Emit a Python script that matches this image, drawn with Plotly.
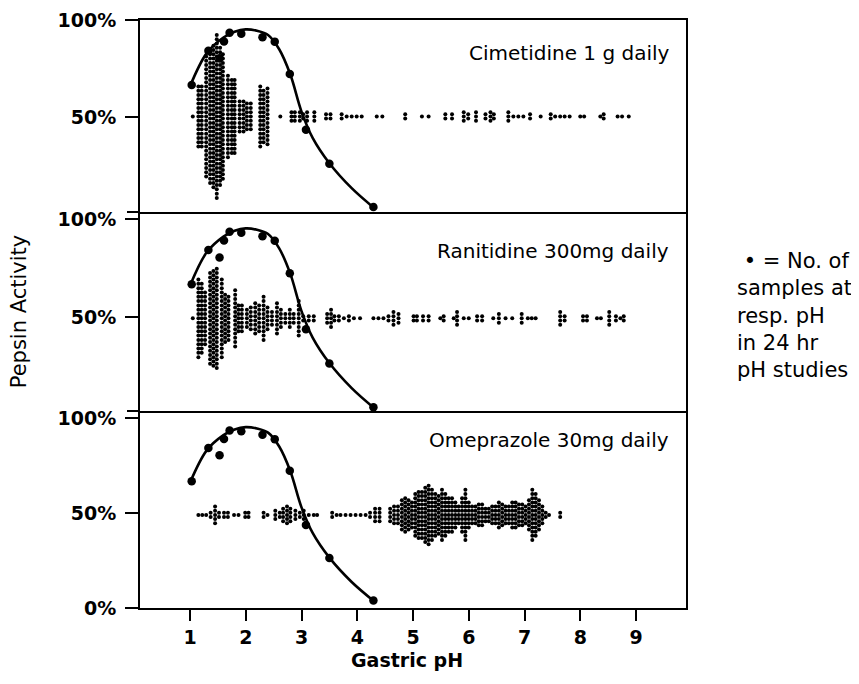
import plotly.graph_objects as go

# ---------------- data ----------------
ph_ticks = [1, 2, 3, 4, 5, 6, 7, 8, 9]
pct_ticks_upper = [50, 100]
pct_ticks_lower = [0, 50, 100]

panel_labels = ["Cimetidine 1 g daily", "Ranitidine 300mg daily", "Omeprazole 30mg daily"]

# drawn pepsin-activity curve
curve_ph = [1.0, 1.3, 1.6, 1.8, 2.0, 2.2, 2.4, 2.6, 2.8, 3.0, 3.2, 3.5, 3.9, 4.3]
curve_act = [66.0, 83.0, 91.0, 94.0, 95.2, 94.5, 92.3, 85.0, 72.0, 53.0, 39.5, 26.5, 13.7, 3.6]

# measured pepsin-activity points (large dots)
point_ph = [1.03, 1.33, 1.53, 1.61, 1.71, 1.92, 2.30, 2.52, 2.79, 3.08, 3.50, 4.29]
point_act = [66.7, 84.2, 80.4, 89.0, 93.5, 93.0, 91.2, 88.9, 72.3, 43.7, 26.3, 4.0]

# number of samples at each pH (dot columns) - Cimetidine
cim_ph = [1.05, 1.15, 1.21, 1.29, 1.36, 1.42, 1.48, 1.54, 1.59, 1.68,
          1.75, 1.80, 1.89, 1.96, 2.02, 2.09, 2.26, 2.32, 2.39, 2.62,
          2.82, 2.88, 2.97, 3.03, 3.10, 3.23, 3.44, 3.52, 3.72, 3.81,
          3.90, 3.99, 4.08, 4.35, 4.45, 4.86, 5.16, 5.28, 5.58, 5.70,
          5.91, 5.99, 6.13, 6.30, 6.39, 6.45, 6.71, 6.80, 6.89, 6.98,
          7.10, 7.29, 7.47, 7.55, 7.64, 7.72, 7.81, 8.00, 8.07, 8.36,
          8.42, 8.67, 8.75, 8.87]
cim_n = [1, 15, 15, 29, 32, 34, 39, 33, 30, 20,
         18, 18, 8, 8, 7, 7, 15, 13, 14, 1,
         3, 3, 3, 2, 3, 3, 2, 2, 2, 1,
         1, 1, 1, 1, 1, 2, 1, 1, 2, 2,
         3, 2, 3, 2, 3, 2, 3, 1, 1, 1,
         2, 1, 2, 1, 1, 1, 1, 1, 1, 1,
         2, 1, 1, 1]

# Ranitidine
ran_ph = [1.05, 1.15, 1.21, 1.27, 1.36, 1.42, 1.48, 1.57, 1.63, 1.69,
          1.81, 1.87, 1.93, 2.02, 2.09, 2.17, 2.24, 2.32, 2.39, 2.47,
          2.56, 2.63, 2.71, 2.79, 2.86, 2.95, 3.03, 3.13, 3.22, 3.46,
          3.53, 3.59, 3.67, 3.76, 3.85, 3.94, 4.05, 4.29, 4.38, 4.47,
          4.56, 4.65, 4.74, 5.01, 5.07, 5.18, 5.28, 5.49, 5.55, 5.73,
          5.79, 5.91, 6.00, 6.15, 6.24, 6.44, 6.54, 6.66, 6.78, 6.95,
          7.06, 7.13, 7.20, 7.64, 7.72, 8.05, 8.12, 8.30, 8.37, 8.52,
          8.64, 8.72, 8.78]
ran_n = [1, 19, 17, 13, 22, 23, 24, 19, 12, 11,
         14, 7, 7, 5, 6, 8, 7, 11, 6, 4,
         8, 5, 3, 5, 3, 9, 2, 2, 2, 3,
         5, 2, 2, 1, 2, 1, 1, 1, 1, 1,
         2, 4, 3, 2, 2, 2, 2, 1, 2, 1,
         4, 1, 1, 2, 2, 1, 3, 1, 1, 3,
         1, 1, 1, 4, 2, 2, 2, 1, 1, 4,
         2, 1, 2]

# Omeprazole
ome_ph = [1.15, 1.22, 1.29, 1.37, 1.45, 1.52, 1.61, 1.68, 1.79, 1.87,
          1.99, 2.05, 2.32, 2.39, 2.53, 2.61, 2.67, 2.74, 2.80, 2.89,
          2.97, 3.04, 3.13, 3.22, 3.28, 3.55, 3.63, 3.70, 3.79, 3.88,
          3.97, 4.06, 4.15, 4.23, 4.32, 4.40, 4.59, 4.66, 4.73,
          4.80, 4.86, 4.92, 4.98, 5.04, 5.10, 5.16, 5.22, 5.28, 5.34,
          5.40, 5.46, 5.52, 5.58, 5.64, 5.70, 5.76, 5.82, 5.88, 5.94,
          6.00, 6.06, 6.12, 6.18, 6.24, 6.30, 6.36, 6.42, 6.48, 6.54,
          6.60, 6.66, 6.72, 6.78, 6.84, 6.90, 6.96, 7.02, 7.08, 7.14,
          7.20, 7.26, 7.32, 7.38, 7.44, 7.64]
ome_n = [1, 1, 1, 2, 5, 2, 2, 2, 1, 1,
         2, 2, 2, 1, 3, 2, 4, 5, 4, 3,
         2, 3, 1, 1, 1, 2, 1, 1, 1, 1,
         1, 1, 1, 2, 4, 4, 4, 5, 5,
         8, 9, 8, 7, 11, 12, 12, 14, 15, 13,
         11, 10, 13, 11, 9, 9, 7, 5, 9, 13,
         7, 5, 5, 6, 6, 4, 4, 5, 5, 7,
         6, 5, 5, 7, 7, 6, 6, 5, 8, 13,
         11, 8, 5, 2, 1, 2]

panel_ph = [cim_ph, ran_ph, ome_ph]
panel_n = [cim_n, ran_n, ome_n]
panel_center = [50.5, 49.3, 49.0]   # % level the sample columns are centred on
dot_step = 2.2                       # % between stacked sample dots

# ---------------- layout geometry ----------------
FONT = "DejaVu Sans"
domains = [[0.6735, 1.0], [0.335, 0.6735], [0.0, 0.335]]
yranges = [[1.5, 100.0], [2.04, 103.57], [0.0, 103.7]]
xrange_ = [0.103, 9.897]


def stack(phs, ns, center, step):
    xs, ys = [], []
    for p, n in zip(phs, ns):
        for i in range(n):
            xs.append(p)
            ys.append(center + (i - (n - 1) / 2) * step)
    return xs, ys


fig = go.Figure()
for k in range(3):
    sfx = "" if k == 0 else str(k + 1)
    xa, ya = "x" + sfx, "y" + sfx
    dx, dy = stack(panel_ph[k], panel_n[k], panel_center[k], dot_step)
    fig.add_trace(go.Scatter(x=dx, y=dy, mode="markers", xaxis=xa, yaxis=ya,
                             marker=dict(size=4.0, color="black"),
                             showlegend=False, hoverinfo="skip"))
    fig.add_trace(go.Scatter(x=curve_ph, y=curve_act, mode="lines", xaxis=xa, yaxis=ya,
                             line=dict(color="black", width=2.6, shape="spline", smoothing=1.0),
                             showlegend=False, hoverinfo="skip", cliponaxis=False))
    fig.add_trace(go.Scatter(x=point_ph, y=point_act, mode="markers", xaxis=xa, yaxis=ya,
                             marker=dict(size=8.5, color="black"),
                             showlegend=False, hoverinfo="skip", cliponaxis=False))

axis_common = dict(showline=True, linewidth=2, linecolor="black",
                   showgrid=False, zeroline=False, automargin=False)

# the page body adds an 8 px offset, so margins are 8 px smaller on left/top
layout = dict(width=859, height=684, margin=dict(l=132, r=181, t=12, b=84),
              paper_bgcolor="white", plot_bgcolor="white", template="none",
              font=dict(family=FONT, color="black"))

for k in range(3):
    sfx = "" if k == 0 else str(k + 1)
    tv = pct_ticks_upper if k < 2 else pct_ticks_lower
    layout["yaxis" + sfx] = dict(
        axis_common, mirror=True, domain=domains[k], range=yranges[k], anchor="x" + sfx,
        tickvals=tv, ticktext=[f"{v}%" for v in tv], ticks="outside",
        ticklen=13, tickwidth=2, tickcolor="black", ticklabelstandoff=5,
        tickfont=dict(family=FONT, size=19, color="black", weight="bold"))
    xa = dict(axis_common, mirror=(k == 0), domain=[0, 1], range=xrange_, anchor="y" + sfx)
    if k < 2:
        xa.update(showticklabels=False, ticks="")
    else:
        xa.update(tickvals=ph_ticks, ticktext=[str(v) for v in ph_ticks],
                  ticks="outside", ticklen=11, tickwidth=2, tickcolor="black",
                  tickfont=dict(family=FONT, size=19, color="black", weight="bold"))
    layout["xaxis" + sfx] = xa

fig.update_layout(**layout)

# axis-break marks on the left axis at the panel joins
for yb in [domains[0][0], domains[1][0]]:
    fig.add_shape(type="line", xref="paper", yref="paper", x0=-13 / 546, x1=0,
                  y0=yb, y1=yb, line=dict(color="black", width=2))

# panel labels
label_y = [0.944, 0.607, 0.2857]
for k in range(3):
    fig.add_annotation(text=panel_labels[k], xref="paper", yref="paper",
                       x=(671 - 140) / 546, y=label_y[k], xanchor="right", yanchor="middle",
                       showarrow=False, font=dict(family=FONT, size=20, color="black"))

# axis titles
fig.add_annotation(text="Gastric pH", xref="paper", yref="paper", x=0.489, y=-0.088,
                   xanchor="center", yanchor="middle", showarrow=False,
                   font=dict(family=FONT, size=19, color="black", weight="bold"))
fig.add_annotation(text="Pepsin Activity", xref="paper", yref="paper", x=(19 - 140) / 546,
                   y=0.503, xanchor="center", yanchor="middle", textangle=-90,
                   showarrow=False, font=dict(family=FONT, size=21, color="black"))

# explanatory note
fig.add_annotation(text=" \u2022 = No. of<br>samples at<br>resp. pH<br>in 24 hr<br>pH studies",
                   xref="paper", yref="paper", x=(735 - 140) / 546, y=0.4966,
                   xanchor="left", yanchor="middle", align="left", showarrow=False,
                   font=dict(family=FONT, size=21, color="black"))

fig.write_html("out.html")
